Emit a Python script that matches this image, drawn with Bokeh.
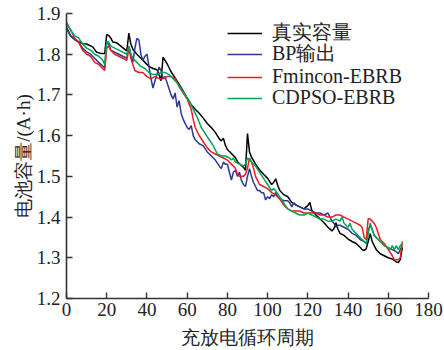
from bokeh.plotting import figure
from bokeh.models import Legend, LegendItem, Range1d, FixedTicker
from bokeh.embed import file_html
from bokeh.resources import INLINE

# 真实容量
true_x = [0, 2, 5, 8, 10, 13, 15, 17, 19, 20, 21, 22, 23, 25, 27, 29, 30, 31, 32, 33, 35, 37, 39, 41, 43, 45, 46, 47, 48, 50, 52, 54, 56, 58, 60, 62, 64, 66, 68, 70, 72, 74, 76, 77, 78, 79, 80, 82, 84, 85, 86, 88, 89, 90, 91, 92, 94, 96, 98, 100, 102, 103, 104, 105, 106, 108, 110, 112, 114, 116, 118, 120, 121, 122, 124, 126, 128, 130, 132, 133, 134, 135, 136, 138, 140, 142, 144, 146, 147, 148, 149, 150, 151, 152, 153, 154, 156, 158, 160, 162, 164, 165, 166, 167]
true_y = [1.865, 1.845, 1.833, 1.826, 1.825, 1.818, 1.805, 1.802, 1.802, 1.848, 1.846, 1.84, 1.83, 1.828, 1.82, 1.812, 1.808, 1.852, 1.825, 1.812, 1.80, 1.79, 1.78, 1.77, 1.765, 1.762, 1.75, 1.735, 1.793, 1.777, 1.757, 1.742, 1.726, 1.71, 1.692, 1.676, 1.665, 1.655, 1.643, 1.63, 1.62, 1.608, 1.592, 1.587, 1.594, 1.576, 1.566, 1.556, 1.546, 1.536, 1.531, 1.522, 1.515, 1.605, 1.56, 1.547, 1.53, 1.516, 1.505, 1.495, 1.48, 1.485, 1.494, 1.478, 1.466, 1.455, 1.45, 1.436, 1.43, 1.425, 1.42, 1.428, 1.436, 1.416, 1.405, 1.396, 1.386, 1.375, 1.366, 1.372, 1.386, 1.37, 1.36, 1.355, 1.346, 1.34, 1.335, 1.326, 1.32, 1.318, 1.322, 1.34, 1.359, 1.34, 1.33, 1.32, 1.31, 1.305, 1.30, 1.297, 1.29, 1.288, 1.296, 1.325]

# BP输出
bp_x = [0, 2, 4, 6, 8, 10, 12, 14, 16, 18, 19, 20, 21, 22, 24, 26, 28, 30, 31, 32, 33, 34, 35, 36, 37, 38, 39, 40, 41, 42, 43, 44, 45, 46, 47, 48, 49, 50, 51, 52, 53, 54, 55, 56, 57, 58, 59, 60, 61, 62, 63, 64, 65, 66, 68, 70, 72, 74, 76, 77, 78, 79, 80, 81, 82, 83, 84, 85, 86, 87, 88, 89, 90, 91, 92, 93, 94, 95, 96, 97, 98, 99, 100, 101, 102, 103, 104, 105, 106, 108, 110, 111, 112, 113, 114, 116, 118, 120, 122, 124, 126, 128, 130, 131, 132, 133, 134, 135, 136, 138, 140, 141, 142, 144, 146, 148, 149, 150, 151, 152, 153, 154, 156, 158, 160, 162, 164, 165, 166, 167]
bp_y = [1.866, 1.845, 1.836, 1.83, 1.815, 1.806, 1.80, 1.79, 1.78, 1.771, 1.766, 1.829, 1.825, 1.81, 1.805, 1.80, 1.795, 1.79, 1.82, 1.80, 1.78, 1.815, 1.839, 1.835, 1.80, 1.785, 1.795, 1.80, 1.77, 1.74, 1.717, 1.735, 1.75, 1.768, 1.76, 1.74, 1.745, 1.73, 1.715, 1.70, 1.69, 1.705, 1.67, 1.686, 1.655, 1.64, 1.63, 1.62, 1.615, 1.625, 1.60, 1.59, 1.585, 1.58, 1.575, 1.56, 1.55, 1.54, 1.525, 1.519, 1.535, 1.53, 1.53, 1.51, 1.491, 1.51, 1.515, 1.50, 1.51, 1.49, 1.48, 1.475, 1.50, 1.519, 1.50, 1.485, 1.475, 1.465, 1.465, 1.46, 1.46, 1.442, 1.45, 1.445, 1.455, 1.45, 1.46, 1.45, 1.445, 1.44, 1.44, 1.435, 1.425, 1.435, 1.43, 1.425, 1.42, 1.42, 1.415, 1.41, 1.41, 1.405, 1.41, 1.40, 1.39, 1.385, 1.375, 1.38, 1.38, 1.375, 1.37, 1.365, 1.36, 1.355, 1.345, 1.34, 1.335, 1.365, 1.38, 1.37, 1.355, 1.35, 1.34, 1.33, 1.325, 1.32, 1.315, 1.31, 1.32, 1.33]

# Fmincon-EBRB
fm_x = [0, 2, 4, 6, 8, 10, 12, 14, 16, 18, 19, 20, 21, 22, 24, 26, 28, 30, 31, 32, 33, 34, 36, 38, 40, 42, 44, 46, 48, 50, 52, 54, 56, 58, 60, 62, 63, 64, 66, 68, 70, 72, 74, 76, 78, 80, 82, 84, 85, 86, 88, 89, 90, 91, 92, 93, 94, 95, 96, 98, 100, 102, 104, 106, 108, 110, 112, 114, 116, 118, 120, 122, 124, 126, 128, 130, 132, 134, 136, 138, 140, 142, 144, 146, 147, 148, 149, 150, 151, 152, 153, 154, 155, 156, 158, 160, 162, 163, 164, 165, 166, 167]
fm_y = [1.878, 1.86, 1.84, 1.83, 1.81, 1.80, 1.795, 1.78, 1.775, 1.765, 1.76, 1.815, 1.82, 1.81, 1.80, 1.795, 1.79, 1.785, 1.815, 1.79, 1.775, 1.76, 1.755, 1.755, 1.745, 1.74, 1.745, 1.74, 1.74, 1.745, 1.745, 1.74, 1.72, 1.705, 1.69, 1.665, 1.64, 1.62, 1.60, 1.585, 1.57, 1.56, 1.555, 1.55, 1.545, 1.54, 1.53, 1.52, 1.505, 1.50, 1.50, 1.505, 1.52, 1.545, 1.535, 1.52, 1.50, 1.49, 1.48, 1.475, 1.47, 1.46, 1.455, 1.445, 1.43, 1.42, 1.415, 1.415, 1.415, 1.41, 1.41, 1.41, 1.41, 1.405, 1.405, 1.40, 1.40, 1.405, 1.405, 1.40, 1.395, 1.39, 1.385, 1.38, 1.375, 1.35, 1.345, 1.396, 1.395, 1.39, 1.385, 1.375, 1.36, 1.345, 1.335, 1.32, 1.305, 1.295, 1.295, 1.295, 1.30, 1.34]

# CDPSO-EBRB
cd_x = [0, 2, 4, 6, 8, 10, 12, 14, 16, 18, 19, 20, 21, 22, 24, 26, 28, 30, 31, 32, 33, 35, 37, 39, 41, 43, 45, 47, 49, 51, 53, 55, 57, 59, 61, 63, 65, 67, 69, 71, 73, 75, 77, 79, 81, 82, 83, 84, 86, 88, 89, 90, 91, 92, 94, 96, 98, 100, 102, 103, 104, 106, 108, 110, 112, 114, 116, 118, 120, 122, 124, 126, 128, 130, 132, 134, 136, 137, 138, 140, 141, 142, 144, 146, 148, 149, 150, 151, 152, 153, 154, 156, 158, 160, 161, 162, 163, 164, 165, 166, 167]
cd_y = [1.875, 1.86, 1.845, 1.84, 1.825, 1.815, 1.81, 1.80, 1.795, 1.785, 1.775, 1.83, 1.83, 1.82, 1.815, 1.81, 1.805, 1.80, 1.82, 1.80, 1.79, 1.78, 1.77, 1.765, 1.755, 1.75, 1.75, 1.755, 1.755, 1.75, 1.74, 1.73, 1.715, 1.70, 1.685, 1.665, 1.645, 1.62, 1.605, 1.59, 1.575, 1.555, 1.55, 1.55, 1.545, 1.54, 1.545, 1.535, 1.53, 1.525, 1.53, 1.545, 1.54, 1.535, 1.525, 1.51, 1.495, 1.48, 1.465, 1.47, 1.465, 1.45, 1.435, 1.42, 1.415, 1.41, 1.405, 1.405, 1.41, 1.405, 1.40, 1.395, 1.395, 1.39, 1.39, 1.395, 1.39, 1.40, 1.385, 1.375, 1.385, 1.37, 1.36, 1.35, 1.34, 1.335, 1.36, 1.385, 1.37, 1.355, 1.35, 1.34, 1.33, 1.325, 1.32, 1.33, 1.32, 1.33, 1.32, 1.33, 1.335]

x_ticks = [0, 20, 40, 60, 80, 100, 120, 140, 160, 180]
y_ticks = [1.2, 1.3, 1.4, 1.5, 1.6, 1.7, 1.8, 1.9]
series_names = ["真实容量", "BP输出", "Fmincon-EBRB", "CDPSO-EBRB"]
x_title = "充放电循环周期"
y_title = "电池容量/(A·h)"

SERIF = "Liberation Serif"
TXT = "#222222"

p = figure(width=444, height=350, output_backend="svg", toolbar_location=None,
           x_range=Range1d(0, 180), y_range=Range1d(1.2, 1.9),
           min_border_left=66, min_border_right=16, min_border_top=13, min_border_bottom=51)
p.outline_line_color = None
p.grid.grid_line_color = None
p.background_fill_color = "white"

lines = []
for xs, ys, col in [(true_x, true_y, "#000000"), (bp_x, bp_y, "#2b3990"),
                    (fm_x, fm_y, "#ed1c24"), (cd_x, cd_y, "#00a651")]:
    lines.append(p.line(xs, ys, line_color=col, line_width=1.5))

for ax in (p.xaxis[0], p.yaxis[0]):
    ax.axis_line_color = "#333333"
    ax.axis_line_width = 1.6
    ax.major_tick_line_color = "#333333"
    ax.major_tick_line_width = 1.4
    ax.major_tick_in = 6
    ax.major_tick_out = 0
    ax.minor_tick_line_color = None
    ax.major_label_text_font = SERIF
    ax.major_label_text_font_size = "19px"
    ax.major_label_text_color = TXT
    ax.axis_label_text_font = SERIF
    ax.axis_label_text_font_size = "19px"
    ax.axis_label_text_font_style = "normal"
    ax.axis_label_text_color = TXT

p.xaxis[0].ticker = FixedTicker(ticks=x_ticks)
p.yaxis[0].ticker = FixedTicker(ticks=y_ticks)
p.yaxis[0].major_label_overrides = {t: f"{t:.1f}" for t in y_ticks}
p.xaxis[0].major_label_standoff = 4
p.yaxis[0].major_label_standoff = 6
p.xaxis[0].axis_label = x_title
p.yaxis[0].axis_label = y_title
p.xaxis[0].axis_label_standoff = 8
p.yaxis[0].axis_label_standoff = 0

# one single-row legend per series, stacked at the reference row positions
row_bottoms = [252, 231, 210, 189]
for name, r, yb in zip(series_names, lines, row_bottoms):
    lg = Legend(items=[LegendItem(label=name, renderers=[r])],
                location=(161, yb), padding=0, margin=0, spacing=0,
                glyph_width=35, glyph_height=20, label_height=20, label_standoff=10,
                label_text_font=SERIF, label_text_font_size="20px", label_text_color=TXT,
                border_line_color=None, background_fill_alpha=0)
    p.add_layout(lg)

open("out.html", "w").write(file_html(p, INLINE))
